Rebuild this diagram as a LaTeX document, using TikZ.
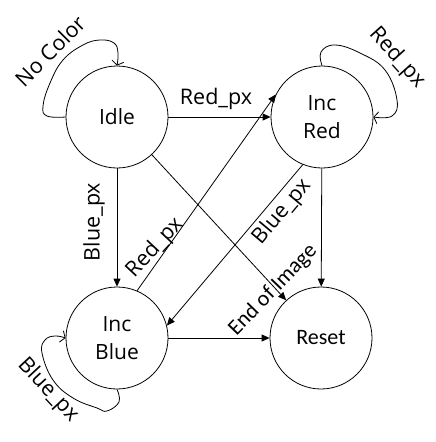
\documentclass[tikz,border=0pt]{standalone}
\usepackage{fontspec}
\setmainfont{Open Sans}
\newfontfamily\calib{Carlito}
\usetikzlibrary{arrows.meta}
\begin{document}
\begin{tikzpicture}[x=1pt,y=-1pt,
  state/.style={circle, draw, line width=0.8pt, minimum size=102pt, inner sep=0pt, align=center,
    font=\fontsize{21}{28}\selectfont},
  edge/.style={line width=0.8pt, -{Triangle[length=8pt,width=7pt]}},
  loopline/.style={line width=0.8pt, -{Straight Barb[length=4pt,width=12pt]}},
  lbl/.style={inner sep=0pt, font=\fontsize{21.5}{24}\selectfont},
  clbl/.style={inner sep=0pt, font=\calib\fontsize{22}{26}\selectfont}]
\fill[white] (0,0) rectangle (436,442);
\useasboundingbox (0,0) rectangle (436,442);

\node[state] (idle) at (117,117) {Idle};
\node[state] (incred) at (322,117) {Inc\\Red};
\node[state] (incblue) at (117,338) {Inc\\Blue};
\node[state, font=\calib\fontsize{22}{26}\selectfont] (reset) at (321,338) {Reset};

\draw[edge] (idle) -- (incred);
\draw[edge] (idle) -- (incblue);
\draw[edge] (idle) -- (reset);
\draw[edge] (incblue.67) -- (incred.154);
\draw[edge] (incred.248) -- (incblue.14);
\draw[edge] (incred) -- (reset);
\draw[edge] (incblue) -- (reset);

\draw[loopline] plot[smooth, tension=0.7] coordinates {(idle.west) (47,116) (43,106) (50,83) (63,60) (83,45) (100,40) (114,43) (118,53) (idle.north)};
\draw[loopline] plot[smooth, tension=0.7] coordinates {(incred.north) (321,52) (335,45) (360,53) (385,70) (397,100) (392,116) (incred.east)};
\draw[loopline] plot[smooth, tension=0.7] coordinates {(incblue.south) (119,402) (107,411) (97,408) (73,398) (53,380) (42,353) (45,340) (55,336) (incblue.west)};

\node[lbl] (l1) at (216,99) {Red\_px};
\node[lbl, rotate=90] (l2) at (94,222) {Blue\_px};
\node[lbl, rotate=47] (l3) at (155,248) {Red\_px};
\node[lbl, rotate=50] (l4) at (282,212) {Blue\_px};
\node[clbl, rotate=46] (l5) at (273,290) {End of Image};
\node[lbl, rotate=45] (l6) at (50,51) {No Color};
\node[lbl, rotate=-48] (l7) at (397,58) {Red\_px};
\node[lbl, rotate=-47] (l8) at (48,390) {Blue\_px};
\end{tikzpicture}
\end{document}
